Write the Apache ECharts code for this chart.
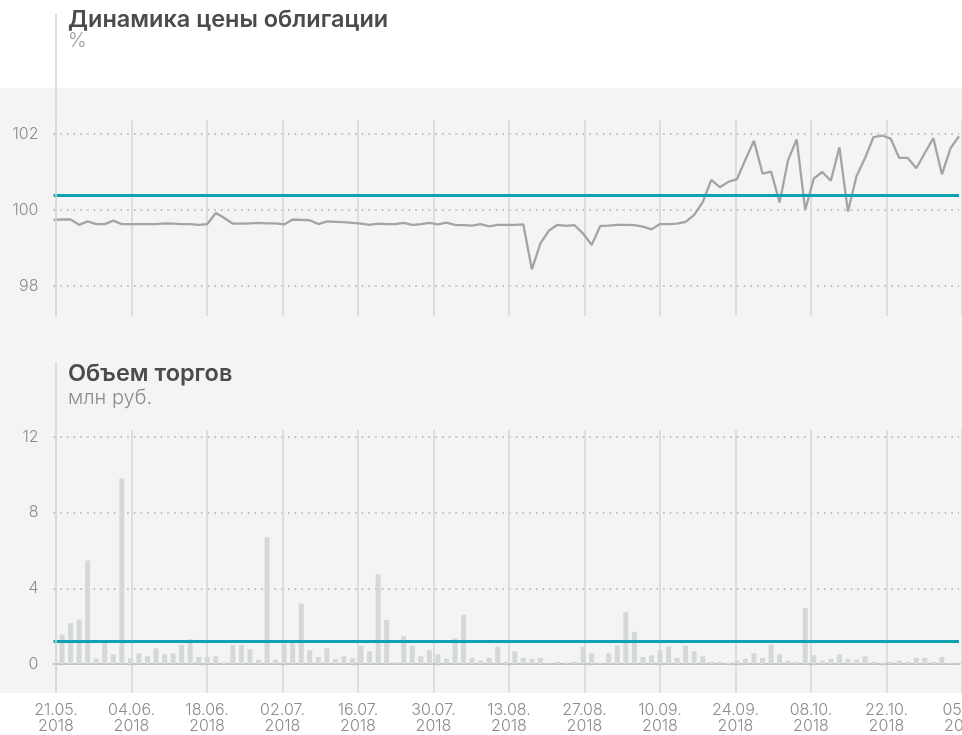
<!DOCTYPE html>
<html>
<head>
<meta charset="utf-8">
<script src="https://cdn.jsdelivr.net/npm/echarts@6/dist/echarts.min.js"></script>
<style>
  html, body { margin: 0; padding: 0; background: #fff; }
  #chart { width: 962px; height: 735px; }
</style>
</head>
<body>
<div id="chart"></div>
<script>
// даты подписей (каждые 2 недели)
let dateLabels = [
  "21.05.\n2018", "04.06.\n2018", "18.06.\n2018", "02.07.\n2018", "16.07.\n2018",
  "30.07.\n2018", "13.08.\n2018", "27.08.\n2018", "10.09.\n2018", "24.09.\n2018",
  "08.10.\n2018", "22.10.\n2018", "05.11.\n2018"
];

// цена облигации, %
let prices = [
  99.74, 99.75, 99.75, 99.61, 99.70, 99.63, 99.63, 99.72, 99.63, 99.63,
  99.63, 99.63, 99.63, 99.65, 99.64, 99.63, 99.63, 99.61, 99.63, 99.92,
  99.79, 99.64, 99.64, 99.65, 99.66, 99.65, 99.65, 99.62, 99.75, 99.74,
  99.73, 99.63, 99.70, 99.69, 99.68, 99.66, 99.64, 99.61, 99.64, 99.63,
  99.63, 99.66, 99.61, 99.63, 99.66, 99.62, 99.67, 99.61, 99.60, 99.59,
  99.63, 99.57, 99.61, 99.61, 99.61, 99.62, 98.44, 99.12, 99.46, 99.61,
  99.58, 99.60, 99.38, 99.08, 99.58, 99.59, 99.61, 99.61, 99.60, 99.56,
  99.49, 99.63, 99.63, 99.64, 99.69, 99.87, 100.21, 100.79, 100.60, 100.74,
  100.81, 101.33, 101.82, 100.96, 101.01, 100.20, 101.32, 101.86, 100.00, 100.83,
  101.00, 100.77, 101.65, 99.96, 100.89, 101.37, 101.92, 101.96, 101.88, 101.37,
  101.37, 101.10, 101.50, 101.89, 100.94, 101.62, 101.94
];

// объем торгов, млн руб.
let volumes = [
  0, 1.56, 2.16, 2.35, 5.47, 0.28, 1.10, 0.51, 9.80, 0.30,
  0.57, 0.41, 0.83, 0.51, 0.57, 1.01, 1.31, 0.37, 0.37, 0.41,
  0.09, 1.01, 1.01, 0.78, 0.23, 6.70, 0.23, 1.06, 1.10, 3.20,
  0.73, 0.37, 0.83, 0.25, 0.41, 0.30, 0.96, 0.67, 4.73, 2.32,
  0.09, 1.47, 0.97, 0.41, 0.73, 0.51, 0.28, 1.36, 2.60, 0.32,
  0.18, 0.32, 0.92, 0.12, 0.67, 0.32, 0.28, 0.32, 0.07, 0.12,
  0.07, 0.12, 0.92, 0.57, 0.07, 0.57, 0.97, 2.74, 1.70, 0.37,
  0.46, 0.73, 0.92, 0.32, 0.96, 0.67, 0.41, 0.12, 0.12, 0.07,
  0.18, 0.28, 0.57, 0.32, 1.03, 0.51, 0.18, 0.12, 2.96, 0.46,
  0.18, 0.28, 0.51, 0.28, 0.23, 0.41, 0.12, 0.07, 0.12, 0.18,
  0.12, 0.32, 0.32, 0.12, 0.37, 0.07, 0.07
];

let priceAvg = 100.39;
let volumeAvg = 1.2;

let idx = volumes.map((v, i) => i);

let teal = "#0fa2b2";
let vLine = "#d4d7d7";
let font = "Inter";

let dotted = {
  type: [1.5, 5.2],
  color: "#a9a9a9",
  width: 1.5
};

let yLabel = {
  color: "#8c8c8c",
  fontSize: 16,
  fontFamily: font,
  fontWeight: 300,
  margin: 15
};

let titleStyle = { color: "#4b4b4b", fontSize: 23.5, fontWeight: 600, fontFamily: font };

var myChart = echarts.init(document.getElementById("chart"));
myChart.setOption({
  animation: false,
  backgroundColor: "#fff",
  graphic: [
    {
      type: "rect",
      z: -100,
      shape: { x: 0, y: 88, width: 962, height: 605 },
      style: { fill: "#f4f4f4" }
    },
    {
      type: "line",
      z: 100,
      shape: { x1: 56, y1: 14, x2: 56, y2: 316 },
      style: { stroke: vLine, lineWidth: 1.5 }
    },
    {
      type: "line",
      z: 100,
      shape: { x1: 56, y1: 362, x2: 56, y2: 693 },
      style: { stroke: vLine, lineWidth: 1.5 }
    }
  ],
  title: [
    {
      text: "Динамика цены облигации",
      subtext: "%",
      left: 68,
      top: 8,
      padding: 0,
      itemGap: -1,
      textStyle: titleStyle,
      subtextStyle: { color: "#9a9a9a", fontSize: 20, fontWeight: 300, fontFamily: font }
    },
    {
      text: "Объем торгов",
      subtext: "млн руб.",
      left: 68,
      top: 362,
      padding: 0,
      itemGap: 2,
      textStyle: titleStyle,
      subtextStyle: { color: "#8c8c8c", fontSize: 20, fontWeight: 300, fontFamily: font }
    }
  ],
  grid: [
    { left: 53.5, right: 3, top: 58, height: 304, outerBoundsMode: "none" },
    { left: 53.5, right: 3, top: 437, height: 227, outerBoundsMode: "none" },
    { left: 56, right: 0, top: 120, height: 196, outerBoundsMode: "none" },
    { left: 56, right: 0, top: 430, height: 263, outerBoundsMode: "none" }
  ],
  xAxis: [
    { gridIndex: 0, type: "category", data: idx, boundaryGap: false, show: false },
    {
      gridIndex: 1,
      type: "category",
      data: idx,
      boundaryGap: false,
      axisLine: { show: true, lineStyle: { color: "#c2c2c2", width: 2 } },
      axisTick: { show: false },
      axisLabel: { show: false },
      splitLine: { show: false }
    },
    {
      gridIndex: 2,
      type: "category",
      data: dateLabels,
      boundaryGap: false,
      axisLine: { show: false },
      axisTick: { show: false },
      axisLabel: { show: false },
      splitLine: { show: true, interval: 0, lineStyle: { color: vLine, width: 1.5 } }
    },
    {
      gridIndex: 3,
      type: "category",
      data: dateLabels,
      boundaryGap: false,
      axisLine: { show: false },
      axisTick: { show: false },
      axisLabel: {
        interval: 0,
        margin: 9,
        color: "#8c8c8c",
        fontSize: 16,
        lineHeight: 16,
        fontFamily: font,
        fontWeight: 300
      },
      splitLine: { show: true, interval: 0, lineStyle: { color: vLine, width: 1.5 } }
    }
  ],
  yAxis: [
    {
      gridIndex: 0,
      type: "value",
      min: 96,
      max: 104,
      interval: 2,
      axisLine: { show: false },
      axisTick: { show: false },
      axisLabel: Object.assign({ showMinLabel: false, showMaxLabel: false }, yLabel),
      splitLine: { show: true, showMinLine: false, showMaxLine: false, lineStyle: dotted }
    },
    {
      gridIndex: 1,
      type: "value",
      min: 0,
      max: 12,
      interval: 4,
      axisLine: { show: false },
      axisTick: { show: false },
      axisLabel: yLabel,
      splitLine: { show: true, showMinLine: false, lineStyle: dotted }
    },
    { gridIndex: 2, type: "value", show: false },
    { gridIndex: 3, type: "value", show: false }
  ],
  series: [
    {
      type: "line",
      xAxisIndex: 0,
      yAxisIndex: 0,
      data: prices,
      symbol: "none",
      z: 3,
      lineStyle: { color: "#a4a4a7", width: 2.3 },
      markLine: {
        silent: true,
        symbol: "none",
        label: { show: false },
        lineStyle: { color: teal, width: 3, type: "solid" },
        data: [{ yAxis: priceAvg }]
      }
    },
    {
      type: "bar",
      xAxisIndex: 1,
      yAxisIndex: 1,
      data: volumes,
      barWidth: 5,
      clip: false,
      itemStyle: { color: "#d5d8d8" },
      markLine: {
        silent: true,
        symbol: "none",
        label: { show: false },
        lineStyle: { color: teal, width: 3, type: "solid" },
        data: [{ yAxis: volumeAvg }]
      }
    }
  ]
});
</script>
</body>
</html>
